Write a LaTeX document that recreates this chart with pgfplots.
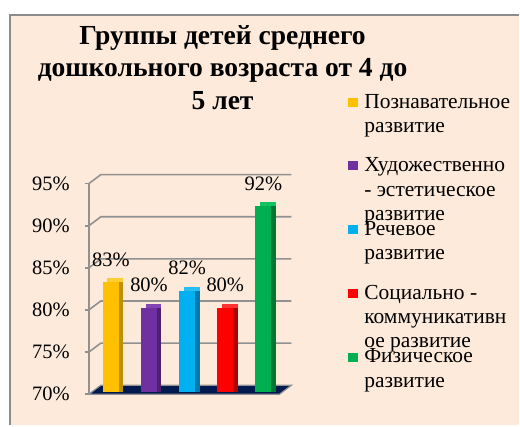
\documentclass[border=0pt]{standalone}
\usepackage{fontspec}
\setmainfont{Liberation Serif}
\usepackage{pgfplots}
\pgfplotsset{compat=1.18}
\definecolor{peach}{RGB}{253,234,218}
\definecolor{bordergray}{RGB}{140,140,140}
\definecolor{gridgray}{RGB}{145,145,145}
\definecolor{floorblue}{RGB}{0,26,80}
\definecolor{oF}{RGB}{255,192,0}\definecolor{oS}{RGB}{190,143,0}\definecolor{oT}{RGB}{255,205,50}
\definecolor{pF}{RGB}{112,48,160}\definecolor{pS}{RGB}{78,32,112}\definecolor{pT}{RGB}{130,70,178}
\definecolor{bF}{RGB}{0,176,240}\definecolor{bS}{RGB}{0,122,170}\definecolor{bT}{RGB}{40,190,245}
\definecolor{rF}{RGB}{255,0,0}\definecolor{rS}{RGB}{176,0,0}\definecolor{rT}{RGB}{255,50,50}
\definecolor{gF}{RGB}{0,176,80}\definecolor{gS}{RGB}{0,118,52}\definecolor{gT}{RGB}{20,192,96}
\pgfplotsset{
  sq legend/.style={legend image code/.code={\path[fill=none,draw=none] (0pt,-5pt) rectangle (10pt,15pt); \fill[##1] (0pt,2pt) rectangle (10pt,11pt);}},
  barfront/.style={ybar, bar width=16pt, bar shift=0pt, draw=none, fill=#1, sq legend,
    nodes near coords={\pgfmathprintnumber{\pgfplotspointmeta}\%}},
  barside/.style={ybar, bar width=16pt, bar shift=4.5pt, draw=none, fill=#1, forget plot},
  bartop/.style={ybar, bar width=16pt, bar shift=4.5pt, yshift=4pt, draw=none, fill=#1, forget plot},
}
\newcommand{\lentry}[1]{\smash{\parbox[t]{148pt}{\raggedright #1}}}
\begin{document}
\begin{tikzpicture}[x=1pt,y=1pt]
\path (0,0) rectangle (520,426);
\fill[peach] (10,0) rectangle (520,411);
\draw[bordergray, line width=2pt] (10,0) -- (10,411) -- (520,411);
\begin{scope}[every node/.style={anchor=base, inner sep=0pt, font=\fontsize{27.6}{32}\selectfont\bfseries}]
\node at (223,381) {Группы детей среднего};
\node at (223,349) {дошкольного возраста от 4 до};
\node at (223,316) {5 лет};
\end{scope}
\begin{axis}[
  at={(92pt,33.5pt)}, anchor=south west,
  width=191pt, height=253.2pt, scale only axis,
  xmin=-0.5, xmax=4.5, ymin=70, ymax=100,
  xtick=\empty, ytick={70,75,...,95},
  yticklabel={\pgfmathprintnumber{\tick}\%},
  /pgf/number format/assume math mode=true,
  axis lines*=left, axis line style={draw=none},
  major tick length=0pt,
  yticklabel style={font=\fontsize{20.5}{24}\selectfont, anchor=east, inner sep=0pt, xshift=-22pt, yshift=-2.5pt},
  every node near coord/.append style={font=\fontsize{20.5}{24}\selectfont, inner sep=0pt, anchor=south, yshift=15.7pt},
  clip mode=individual,
  legend cell align=left,
  legend style={at={(1.3455,1.1789)}, anchor=north west, draw=none, fill=none,
    inner sep=0pt, outer sep=0pt, row sep=43.8pt, column sep=6pt,
    nodes={inner sep=0pt}, font=\fontsize{21.5}{24.5}\selectfont},
]
\draw[gridgray, line width=1.6pt]
  ([xshift=-3pt,yshift=-2.5pt]axis cs:-0.5,75) -- ([xshift=9pt,yshift=6.5pt]axis cs:-0.5,75) -- ([xshift=9pt,yshift=6.5pt]axis cs:4.5,75)
  ([xshift=-3pt,yshift=-2.5pt]axis cs:-0.5,80) -- ([xshift=9pt,yshift=6.5pt]axis cs:-0.5,80) -- ([xshift=9pt,yshift=6.5pt]axis cs:4.5,80)
  ([xshift=-3pt,yshift=-2.5pt]axis cs:-0.5,85) -- ([xshift=9pt,yshift=6.5pt]axis cs:-0.5,85) -- ([xshift=9pt,yshift=6.5pt]axis cs:4.5,85)
  ([xshift=-3pt,yshift=-2.5pt]axis cs:-0.5,90) -- ([xshift=9pt,yshift=6.5pt]axis cs:-0.5,90) -- ([xshift=9pt,yshift=6.5pt]axis cs:4.5,90)
  ([xshift=-3pt,yshift=-2.5pt]axis cs:-0.5,95) -- ([xshift=9pt,yshift=6.5pt]axis cs:-0.5,95) -- ([xshift=9pt,yshift=6.5pt]axis cs:4.5,95);
\draw[gridgray, line width=1.6pt]
  ([xshift=-3pt,yshift=-2.5pt]axis cs:-0.5,70) -- ([xshift=-3pt,yshift=-2.5pt]axis cs:-0.5,95)
  ([xshift=-7pt,yshift=-2.5pt]axis cs:-0.5,70) -- ([xshift=-3pt,yshift=-2.5pt]axis cs:-0.5,70)
  ([xshift=-7pt,yshift=-2.5pt]axis cs:-0.5,75) -- ([xshift=-3pt,yshift=-2.5pt]axis cs:-0.5,75)
  ([xshift=-7pt,yshift=-2.5pt]axis cs:-0.5,80) -- ([xshift=-3pt,yshift=-2.5pt]axis cs:-0.5,80)
  ([xshift=-7pt,yshift=-2.5pt]axis cs:-0.5,85) -- ([xshift=-3pt,yshift=-2.5pt]axis cs:-0.5,85)
  ([xshift=-7pt,yshift=-2.5pt]axis cs:-0.5,90) -- ([xshift=-3pt,yshift=-2.5pt]axis cs:-0.5,90)
  ([xshift=-7pt,yshift=-2.5pt]axis cs:-0.5,95) -- ([xshift=-3pt,yshift=-2.5pt]axis cs:-0.5,95);
\filldraw[fill=floorblue, draw=gridgray, line width=1.2pt]
  ([xshift=-3pt,yshift=-2.5pt]axis cs:-0.5,70) -- ([xshift=-3pt,yshift=-2.5pt]axis cs:4.5,70)
  -- ([xshift=9pt,yshift=6.5pt]axis cs:4.5,70) -- ([xshift=9pt,yshift=6.5pt]axis cs:-0.5,70) -- cycle;
\addplot[bartop=oT] coordinates {(0,83)};
\addplot[barside=oS] coordinates {(0,83)};
\addplot[barfront=oF] coordinates {(0,83)};
\addlegendentry{\lentry{Познавательное\\развитие}}
\addplot[bartop=pT] coordinates {(1,80)};
\addplot[barside=pS] coordinates {(1,80)};
\addplot[barfront=pF] coordinates {(1,80)};
\addlegendentry{\lentry{Художественно\\- эстетическое\\развитие}}
\addplot[bartop=bT] coordinates {(2,82)};
\addplot[barside=bS] coordinates {(2,82)};
\addplot[barfront=bF] coordinates {(2,82)};
\addlegendentry{\lentry{Речевое\\развитие}}
\addplot[bartop=rT] coordinates {(3,80)};
\addplot[barside=rS] coordinates {(3,80)};
\addplot[barfront=rF] coordinates {(3,80)};
\addlegendentry{\lentry{Социально -\\коммуникативн\\ое развитие}}
\addplot[bartop=gT] coordinates {(4,92)};
\addplot[barside=gS] coordinates {(4,92)};
\addplot[barfront=gF] coordinates {(4,92)};
\addlegendentry{\lentry{Физическое\\развитие}}
\end{axis}
\end{tikzpicture}
\end{document}
